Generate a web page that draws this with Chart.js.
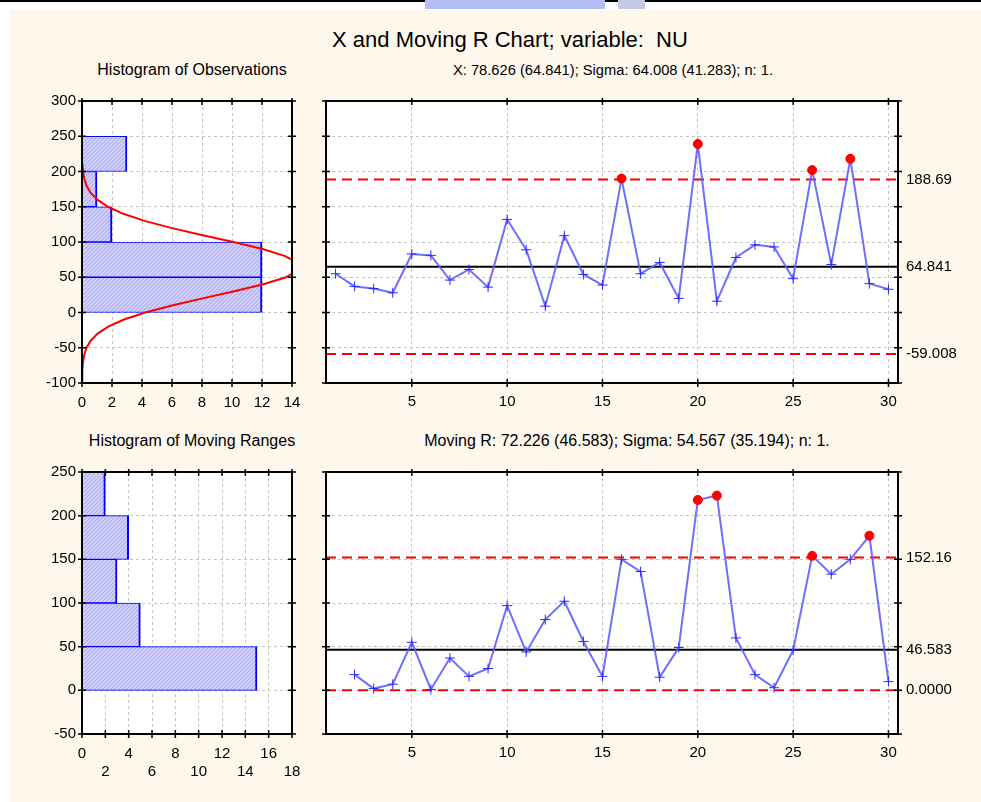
<!DOCTYPE html>
<html>
<head>
<meta charset="utf-8">
<script src="https://cdn.jsdelivr.net/npm/chart.js@4.4.1/dist/chart.umd.min.js"></script>
<style>
  html, body { margin: 0; padding: 0; background: #fff; }
  body { width: 981px; height: 802px; position: relative; overflow: hidden; font-family: "Liberation Sans", Arial, sans-serif; }
  #topline { position: absolute; left: 0; top: 0; width: 981px; height: 2px; background: #000; }
  #paper { position: absolute; left: 10px; top: 10px; right: 0; bottom: 0; background: #fef7ec; }
  .mark { position: absolute; top: 0; height: 9px; background: #b3bcf3; }
  .txt { position: absolute; transform: translate(-50%, -50%); white-space: nowrap; color: #000; }
  .title { font-size: 22px; }
  .sub { font-size: 16px; }
  canvas { position: absolute; }
</style>
</head>
<body>
<div id="topline"></div>
<div class="mark" style="left:425px;width:180px"></div>
<div class="mark" style="left:618px;width:27px;background:#c4c9e6"></div>
<div id="paper"></div>

<div class="txt title" style="left:510px;top:40px">X and Moving R Chart; variable:&nbsp; NU</div>
<div class="txt sub" style="left:192px;top:70px">Histogram of Observations</div>
<div class="txt sub" style="left:613px;top:70px;font-size:14.7px">X: 78.626 (64.841); Sigma: 64.008 (41.283); n: 1.</div>
<div class="txt sub" style="left:192px;top:441px">Histogram of Moving Ranges</div>
<div class="txt sub" style="left:627px;top:441px">Moving R: 72.226 (46.583); Sigma: 54.567 (35.194); n: 1.</div>

<canvas id="histX" width="290" height="325" style="left:20px;top:90px"></canvas>
<canvas id="chartX" width="681" height="325" style="left:300px;top:90px"></canvas>
<canvas id="histMR" width="290" height="340" style="left:20px;top:460px"></canvas>
<canvas id="chartMR" width="681" height="340" style="left:300px;top:460px"></canvas>

<script>
// sample numbers
const sampleNo = [1, 2, 3, 4, 5, 6, 7, 8, 9, 10, 11, 12, 13, 14, 15,
  16, 17, 18, 19, 20, 21, 22, 23, 24, 25, 26, 27, 28, 29, 30];

// individual observations (variable NU)
const xValues = [55, 37, 34, 28, 83, 81, 46, 61, 36, 132, 89, 9, 109, 54, 39,
  190, 55, 71, 20, 239, 16, 78, 96, 93, 48, 202, 68, 218, 41, 33];

// moving ranges, first sample has none
const mrValues = [null, 18, 2, 7, 55, 1, 37, 16, 25, 97, 44, 81, 102, 56, 16,
  150, 136, 15, 49, 218, 223, 60, 18, 3, 46, 154, 133, 150, 177, 10];

// control limits: UCL, center, LCL
const xLimits = [188.69, 64.841, -59.008];
const xLimitText = ["188.69", "64.841", "-59.008"];
const mrLimits = [152.16, 46.583, 0];
const mrLimitText = ["152.16", "46.583", "0.0000"];

// histogram bins (centres of 50-wide classes) and counts
const binCenters = [25, 75, 125, 175, 225];
const obsCounts = [12, 12, 2, 1, 3];
const mrCounts = [15, 5, 3, 4, 2];

// fitted normal curve
const curveLevels = [-100, -90, -80, -70, -60, -50, -40, -30, -20, -10, 0, 10, 20, 30, 40,
  50, 60, 70, 80, 90, 100, 110, 120, 130, 140, 150, 160, 170, 180, 190, 200, 210, 220, 250, 300];
const curveCounts = [0.005, 0.013, 0.031, 0.07, 0.15, 0.3, 0.58, 1.04, 1.75, 2.8, 4.22, 6.0, 8.04, 10.15, 12.1,
  13.59, 14.4, 14.38, 13.55, 12.04, 10.09, 7.97, 5.94, 4.17, 2.76, 1.73, 1.02, 0.57, 0.3, 0.15, 0.07, 0.03, 0.01, 0, 0];

// x axis tick labels of the run charts
const runTicks = [5, 10, 15, 20, 25, 30];

const RED = "#ff0000";
const GRID = "#c4c4c4";
const tickFont = { family: "'Liberation Sans', Arial, sans-serif", size: 15 };

Chart.defaults.animation = false;
Chart.defaults.color = "#000";

function hatchPattern() {
  const c = document.createElement("canvas");
  c.width = 4;
  c.height = 4;
  const g = c.getContext("2d");
  g.fillStyle = "#cdcdff";
  g.fillRect(0, 0, 4, 4);
  g.strokeStyle = "#a6a6f2";
  g.lineWidth = 1;
  g.beginPath();
  g.moveTo(-1, 5);
  g.lineTo(5, -1);
  g.moveTo(-1, 1);
  g.lineTo(1, -1);
  g.moveTo(3, 5);
  g.lineTo(5, 3);
  g.stroke();
  return g.createPattern(c, "repeat");
}

// keep the plot area exactly where the layout padding puts it
function fixWidth(w) {
  return (s) => { s.width = w; s.paddingTop = 0; s.paddingBottom = 0; };
}
function fixHeight(h) {
  return (s) => { s.height = h; s.paddingLeft = 0; s.paddingRight = 0; };
}

// white plot area, black frame and short tick marks on all four sides
const plotFrame = {
  id: "plotFrame",
  beforeDraw(chart) {
    const a = chart.chartArea;
    const ctx = chart.ctx;
    ctx.save();
    ctx.fillStyle = "#fff";
    ctx.fillRect(a.left, a.top, a.right - a.left, a.bottom - a.top);
    ctx.restore();
  },
  afterDraw(chart) {
    const a = chart.chartArea;
    const ctx = chart.ctx;
    const xs = chart.scales.x;
    const ys = chart.scales.y;
    ctx.save();
    ctx.strokeStyle = "#000";
    ctx.lineWidth = 1.5;
    ctx.beginPath();
    xs.ticks.forEach((t) => {
      const p = xs.getPixelForValue(t.value);
      ctx.moveTo(p, a.top - 3);
      ctx.lineTo(p, a.top + 4);
      ctx.moveTo(p, a.bottom - 4);
      ctx.lineTo(p, a.bottom + 4);
    });
    ys.ticks.forEach((t) => {
      const p = ys.getPixelForValue(t.value);
      ctx.moveTo(a.left - 4, p);
      ctx.lineTo(a.left + 4, p);
      ctx.moveTo(a.right - 4, p);
      ctx.lineTo(a.right + 4, p);
    });
    ctx.stroke();
    ctx.lineWidth = 2;
    ctx.strokeRect(a.left, a.top, a.right - a.left, a.bottom - a.top);
    ctx.restore();
  },
};

function histogram(id, counts, yMin, yMax, xMax, xHeight, padTop, curve, staggered) {
  const datasets = [
    {
      type: "bar",
      data: binCenters.map((c, i) => ({ x: counts[i], y: c })),
      backgroundColor: hatchPattern(),
      borderColor: "#0000ff",
      borderWidth: { top: 1, bottom: 1, right: 2, left: 0 },
      borderSkipped: false,
      barPercentage: 1,
      categoryPercentage: 1,
    },
  ];
  if (curve) {
    datasets.unshift({
      type: "line",
      indexAxis: "y",
      data: curveLevels.map((v, i) => ({ x: curveCounts[i], y: v })),
      borderColor: RED,
      borderWidth: 2,
      pointRadius: 0,
      tension: 0,
    });
  }
  return new Chart(document.getElementById(id), {
    type: "bar",
    data: { datasets },
    plugins: [plotFrame],
    options: {
      responsive: false,
      indexAxis: "y",
      layout: { padding: { top: padTop, right: 18, left: 0, bottom: 0 } },
      plugins: { legend: { display: false }, tooltip: { enabled: false } },
      scales: {
        y: {
          type: "linear",
          min: yMin,
          max: yMax,
          offset: false,
          ticks: { stepSize: 50, font: tickFont, padding: 6 },
          grid: { color: GRID, drawTicks: false, offset: false },
          border: { display: false, dash: [3, 3] },
          afterFit: fixWidth(62),
        },
        x: {
          type: "linear",
          min: 0,
          max: xMax,
          ticks: {
            stepSize: 2,
            font: { ...tickFont, lineHeight: 1.25 },
            padding: 10,
            autoSkip: false,
            maxRotation: 0,
            callback: (v) => {
              if (!staggered) return String(v);
              return v % 4 === 0 ? [String(v), ""] : ["", String(v)];
            },
          },
          grid: { color: GRID, drawTicks: false },
          border: { display: false, dash: [3, 3] },
          afterFit: fixHeight(xHeight),
        },
      },
    },
  });
}

function runChart(id, values, limits, limitText, yMin, yMax, xHeight, padTop) {
  const pts = [];
  sampleNo.forEach((n, i) => {
    if (values[i] !== null) pts.push({ x: n, y: values[i] });
  });
  const out = (v) => v > limits[0] || v < limits[2];
  const limitLine = (v, color, dash) => ({
    data: [{ x: 0.5, y: v }, { x: 30.5, y: v }],
    borderColor: color,
    borderWidth: 2,
    borderDash: dash,
    pointRadius: 0,
  });
  return new Chart(document.getElementById(id), {
    type: "line",
    data: {
      datasets: [
        {
          data: pts,
          borderColor: "rgba(95,95,255,0.9)",
          borderWidth: 2,
          pointStyle: (c) => (out(c.raw.y) ? "circle" : "cross"),
          pointRadius: (c) => (out(c.raw.y) ? 4.5 : 5),
          pointBackgroundColor: (c) => (out(c.raw.y) ? RED : "#2b2bff"),
          pointBorderColor: (c) => (out(c.raw.y) ? RED : "#2b2bff"),
          pointBorderWidth: 1,
        },
        limitLine(limits[0], RED, [10, 6]),
        limitLine(limits[1], "#000", []),
        limitLine(limits[2], RED, [10, 6]),
      ],
    },
    plugins: [plotFrame],
    options: {
      responsive: false,
      layout: { padding: { top: padTop, right: 0, left: 0, bottom: 0 } },
      plugins: { legend: { display: false }, tooltip: { enabled: false } },
      scales: {
        x: {
          type: "linear",
          min: 0.5,
          max: 30.5,
          afterBuildTicks: (s) => { s.ticks = runTicks.map((v) => ({ value: v })); },
          ticks: { font: tickFont, padding: 10, autoSkip: false, maxRotation: 0 },
          grid: { color: GRID, drawTicks: false },
          border: { display: false, dash: [3, 3] },
          afterFit: fixHeight(xHeight),
        },
        y: {
          type: "linear",
          min: yMin,
          max: yMax,
          ticks: { stepSize: 50, display: false },
          grid: { color: GRID, drawTicks: false },
          border: { display: false, dash: [3, 3] },
          afterFit: fixWidth(26),
        },
        yR: {
          type: "linear",
          position: "right",
          min: yMin,
          max: yMax,
          afterBuildTicks: (s) => { s.ticks = limits.map((v) => ({ value: v })); },
          ticks: { font: tickFont, padding: 8, autoSkip: false, callback: (v, i) => limitText[i] },
          grid: { display: false, drawTicks: false },
          border: { display: false },
          afterFit: fixWidth(83),
        },
      },
    },
  });
}

histogram("histX", obsCounts, -100, 300, 14, 32, 11, true, false);
runChart("chartX", xValues, xLimits, xLimitText, -100, 300, 32, 11);
histogram("histMR", mrCounts, -50, 250, 18, 66, 12, false, true);
runChart("chartMR", mrValues, mrLimits, mrLimitText, -50, 250, 66, 12);
</script>
</body>
</html>
